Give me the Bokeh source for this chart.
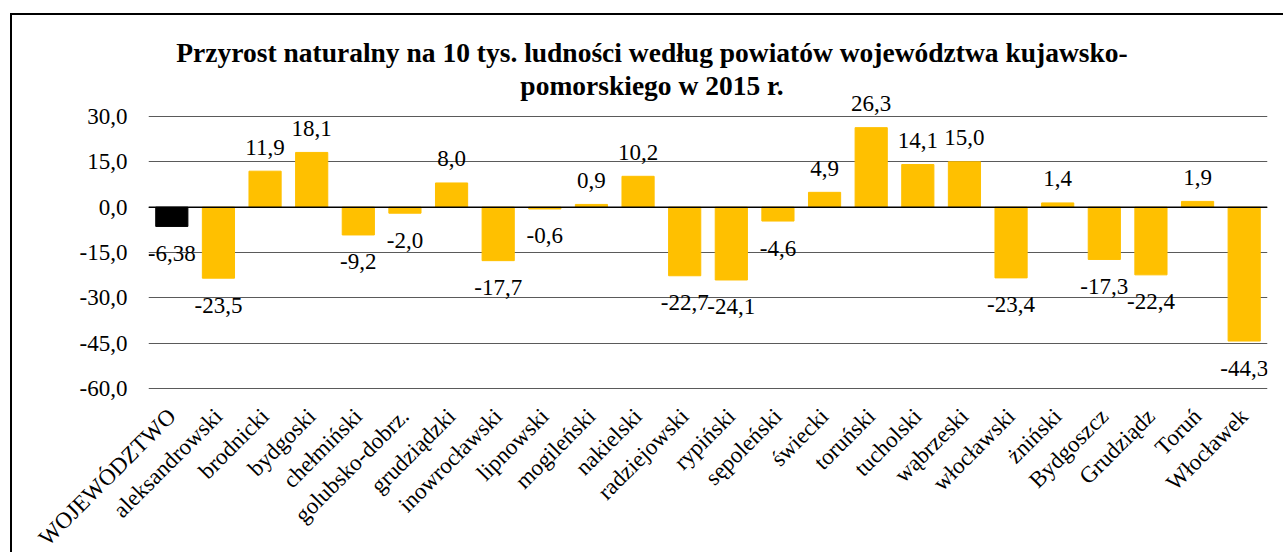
import math
from bokeh.plotting import figure
from bokeh.models import (FactorRange, Range1d, FixedTicker, CustomJSTickFormatter,
                          ColumnDataSource, Span, GlobalInlineStyleSheet)
from bokeh.core.properties import value
from bokeh.embed import file_html
from bokeh.resources import INLINE

categories = ["WOJEWÓDZTWO", "aleksandrowski", "brodnicki", "bydgoski", "chełmiński",
              "golubsko-dobrz.", "grudziądzki", "inowrocławski", "lipnowski", "mogileński",
              "nakielski", "radziejowski", "rypiński", "sępoleński", "świecki", "toruński",
              "tucholski", "wąbrzeski", "włocławski", "żniński", "Bydgoszcz", "Grudziądz",
              "Toruń", "Włocławek"]
values = [-6.38, -23.5, 11.9, 18.1, -9.2, -2.0, 8.0, -17.7, -0.6, 0.9, 10.2, -22.7,
          -24.1, -4.6, 4.9, 26.3, 14.1, 15.0, -23.4, 1.4, -17.3, -22.4, 1.9, -44.3]
value_labels = ["-6,38", "-23,5", "11,9", "18,1", "-9,2", "-2,0", "8,0", "-17,7", "-0,6",
                "0,9", "10,2", "-22,7", "-24,1", "-4,6", "4,9", "26,3", "14,1", "15,0",
                "-23,4", "1,4", "-17,3", "-22,4", "1,9", "-44,3"]
y_ticks = [-60, -45, -30, -15, 0, 15, 30]
title_lines = ["Przyrost naturalny na 10 tys. ludności według powiatów województwa kujawsko-",
               "pomorskiego w 2015 r."]

SERIF = "'Liberation Serif', 'Times New Roman', serif"
colors = ["#000000"] + ["#FFC000"] * (len(values) - 1)
offsets = [-24 if v > 0 else 27 for v in values]

src = ColumnDataSource(dict(cat=categories, val=values, lab=value_labels,
                            col=colors, off=offsets))

p = figure(x_range=FactorRange(*categories), y_range=Range1d(-61.65, 63.4),
           width=1273, height=560, output_backend="svg", toolbar_location=None,
           min_border_left=136, min_border_right=18, min_border_top=0,
           min_border_bottom=182)
p.styles = {"border-top": "2px solid black", "border-left": "2px solid black",
            "margin-top": "13px", "margin-left": "10px"}
p.stylesheets = [GlobalInlineStyleSheet(css="html, body { overflow: hidden; }")]
p.outline_line_color = None
p.background_fill_color = "white"

p.vbar(x="cat", top="val", bottom=0, width=0.69, color="col", source=src)

p.text(x="cat", y="val", text="lab", y_offset="off", source=src,
       text_align="center", text_baseline="middle",
       text_font=value(SERIF), text_font_size="23px", text_color="black")

n = len(categories)
p.text(x=[n / 2, n / 2], y=[51.0, 40.2], text=title_lines, x_offset=-56,
       text_align="center", text_baseline="middle", text_font=value(SERIF),
       text_font_style="bold", text_font_size="27.5px", text_color="black")

zero = Span(location=0, dimension="width", line_color="black", line_width=1.5)
p.add_layout(zero)

p.yaxis.ticker = FixedTicker(ticks=y_ticks)
p.yaxis.formatter = CustomJSTickFormatter(code="return tick.toFixed(1).replace('.', ',');")
p.yaxis.axis_line_color = None
p.yaxis.major_tick_line_color = None
p.yaxis.minor_tick_line_color = None
p.yaxis.major_tick_out = 0
p.yaxis.major_label_standoff = 21
p.yaxis.major_label_text_font = SERIF
p.yaxis.major_label_text_font_size = "23px"
p.yaxis.major_label_text_color = "black"

p.ygrid.ticker = FixedTicker(ticks=y_ticks)
p.ygrid.grid_line_color = "#5a5a5a"
p.ygrid.grid_line_width = 1
p.xgrid.grid_line_color = None

p.xaxis.axis_line_color = None
p.xaxis.major_tick_line_color = None
p.xaxis.major_tick_out = 0
p.xaxis.major_label_orientation = math.pi / 4
p.xaxis.major_label_standoff = 19
p.xaxis.major_label_text_font = SERIF
p.xaxis.major_label_text_font_size = "23px"
p.xaxis.major_label_text_color = "black"

open("out.html", "w").write(file_html(p, INLINE))
